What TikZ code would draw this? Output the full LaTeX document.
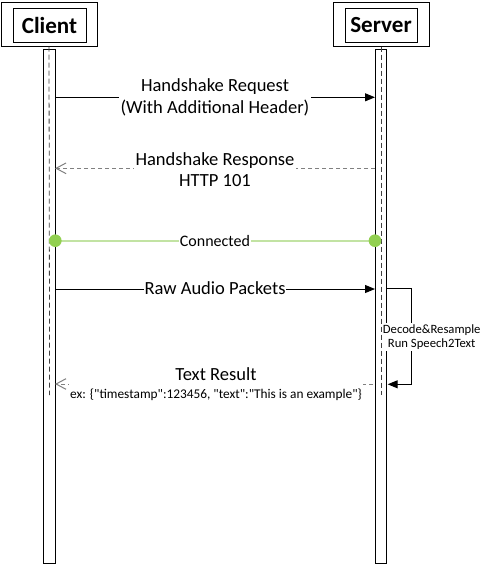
\documentclass[tikz,border=0pt]{standalone}
\usepackage{fontspec}
\setmainfont{Carlito}[Ligatures=TeXOff]
\usetikzlibrary{arrows.meta}
\definecolor{dotgreen}{HTML}{92D050}
\definecolor{linegreen}{HTML}{C2E3A3}
\definecolor{respgray}{HTML}{808080}
\begin{document}
\begin{tikzpicture}[x=0.75pt,y=-0.75pt,
  outerbox/.style={draw=black, line width=0.75pt, inner sep=0, minimum width=72pt, minimum height=33pt},
  innerbox/.style={draw=black, line width=0.75pt, inner sep=0, minimum height=25.5pt, font=\fontsize{17.3}{20}\selectfont\bfseries},
  lifeline/.style={draw=black, line width=0.75pt, fill=white, inner sep=0, minimum width=8.7pt, minimum height=385.3pt},
  centerdash/.style={draw=black!75, line width=0.6pt, dash pattern=on 3.75pt off 2.25pt},
  msgtext/.style={font=\fontsize{13.9}{16.5}\selectfont, align=center, fill=white, inner sep=1pt},
  req/.style={draw=black, line width=0.75pt, -{Triangle[length=7.5pt,width=6pt]}},
  resp/.style={draw=respgray, line width=0.75pt, dash pattern=on 3pt off 2.25pt, -{Straight Barb[length=7.5pt,width=8pt]}},
  greenline/.style={draw=linegreen, line width=1.5pt},
  gdot/.style={circle, fill=dotgreen, inner sep=0, minimum size=9.5pt}
]
\useasboundingbox (0,0) rectangle (491,565);

% participant boxes
\node[outerbox] (clientOuter) at (49,24) {};
\node[innerbox, minimum width=54.75pt] (client) at (49.5,25) {Client};
\node[outerbox] (serverOuter) at (381,24) {};
\node[innerbox, minimum width=54pt] (server) at (381,25) {Server};

% lifelines
\node[lifeline] (clientLife) at (49.25,306.2) {};
\node[lifeline] (serverLife) at (380.85,306.2) {};
\coordinate (clientDashEnd) at (49.6,395);
\coordinate (serverDashEnd) at (381,395);
\draw[centerdash] (clientOuter.south) -- (clientDashEnd);
\draw[centerdash] (serverOuter.south) -- (serverDashEnd);

% Handshake request
\coordinate (c1) at (55,97.3);
\coordinate (s1) at (375,97.3);
\draw[req] (c1) -- (s1);
\node[msgtext] (t1) at (215,97.5) {Handshake Request\\(With Additional Header)};

% Handshake response
\coordinate (s2) at (375,168.3);
\coordinate (c2) at (55,168.3);
\draw[resp] (s2) -- (c2);
\node[msgtext, font=\fontsize{13.9}{15.75}\selectfont] (t2) at (215,169.5) {Handshake Response\\HTTP 101};

% Connected
\coordinate (c3) at (55.3,240.7);
\coordinate (s3) at (375,240.7);
\draw[greenline] (c3) -- (s3);
\node[gdot] (cdot) at (c3) {};
\node[gdot] (sdot) at (s3) {};
\node[fill=white, inner sep=1pt, font=\fontsize{12}{14}\selectfont] (t3) at (215,241) {Connected};

% Raw audio packets
\coordinate (c4) at (55,289);
\coordinate (s4) at (375,289);
\draw[req] (c4) -- (s4);
\node[fill=white, inner sep=0.3pt, font=\fontsize{13.9}{16.5}\selectfont] (t4) at (215,288) {Raw Audio Packets};

% self message
\coordinate (s5) at (386.7,288.6);
\coordinate (s6) at (387.7,384.3);
\draw[req] (s5) -- ++(24.3,0) |- (s6);
\node[fill=white, inner sep=1pt, align=center, font=\fontsize{9.5}{10.5}\selectfont] (t5) at (431.7,337) {Decode\&Resample\\Run Speech2Text};

% Text result
\coordinate (s7) at (373,384);
\coordinate (c7) at (55,384);
\draw[resp] (s7) -- (c7);
\node[fill=white, inner sep=1pt, align=center] (t7) at (216,384)
  {\fontsize{13.9}{16.5}\selectfont Text Result\\[1pt]
   \fontsize{10}{12}\selectfont ex: \{"timestamp":123456, "text":"This is an example"\}};
\end{tikzpicture}
\end{document}
